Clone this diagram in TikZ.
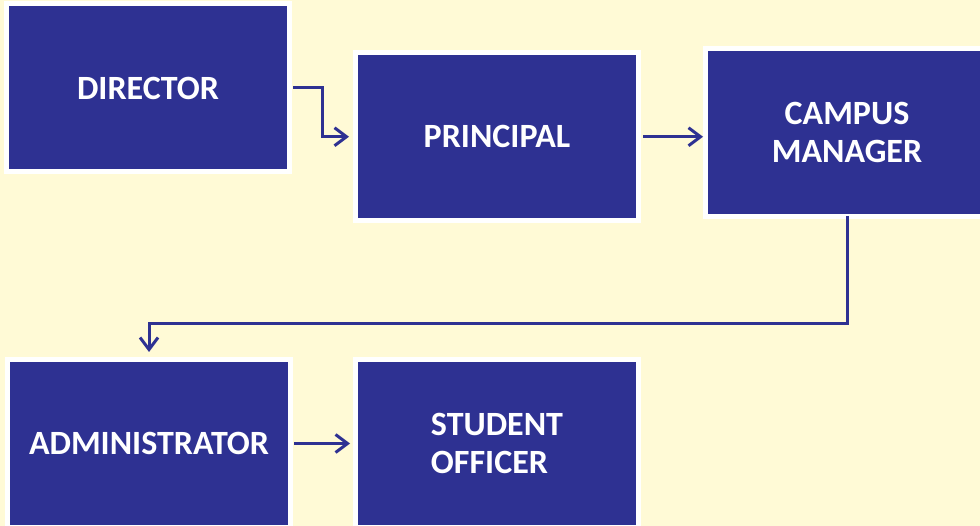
\documentclass[tikz,border=0pt]{standalone}
\usepackage{fontspec}
\setmainfont{Carlito}
\usetikzlibrary{arrows.meta}
\definecolor{boxblue}{RGB}{46,49,146}
\definecolor{paper}{RGB}{255,250,214}

\begin{document}
\begin{tikzpicture}[x=1pt, y=-1pt,
        role/.style={draw=white, line width=5pt, fill=boxblue, text=white, font=\fontsize{34}{38}\selectfont\bfseries, align=center, minimum width=283pt, minimum height=168pt},
        link/.style={draw=boxblue, line width=3pt, -{Straight Barb[length=12pt, width=18pt]}}
    ]

        % Background
        \fill[paper] (0,0) rectangle (980,526);
        \useasboundingbox (0,0) rectangle (980,526);

        % Top row
        \node[role] (director) at (148, 88) {DIRECTOR};
        \node[role] (principal) at (497, 136.75) {PRINCIPAL};
        \node[role] (campus) at (847, 132.5) {CAMPUS\\MANAGER};

        % Bottom row
        \node[role] (admin) at (149, 443.5) {ADMINISTRATOR};
        \node[role, align=left] (student) at (497, 443.5) {STUDENT\\OFFICER};

        % Connections
        \draw[link, shorten <=1pt, shorten >=4pt] (director.east) -- ++(30,0) |- (principal.west);
        \draw[link, shorten <=2pt] (principal.east) -- (campus.west |- principal.east);
        \draw[link, shorten <=-3pt, shorten >=5pt] (campus.south) -- ++(0,105) -| (admin.north);
        \draw[link, shorten <=1pt, shorten >=3pt] (admin.east) -- (student.west);

    \end{tikzpicture}
\end{document}
